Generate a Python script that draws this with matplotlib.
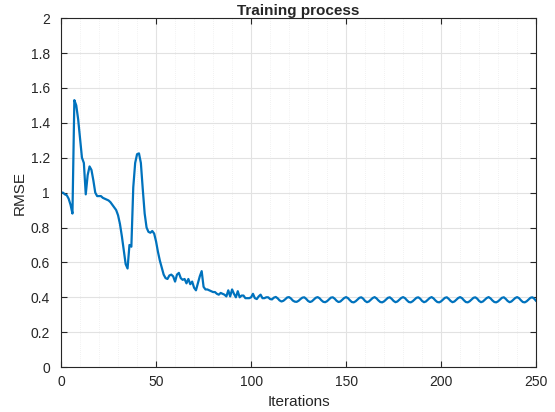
import matplotlib
matplotlib.use("Agg")
import matplotlib.pyplot as plt
from matplotlib.ticker import MultipleLocator

# RMSE, one value per iteration (0..250)
rmse_head = [
    1.00, 1.00, 0.99, 0.985, 0.965, 0.93, 0.88, 1.53, 1.50, 1.42,
    1.31, 1.20, 1.17, 0.99, 1.10, 1.15, 1.13, 1.07, 1.00, 0.98,
    0.98, 0.98, 0.97, 0.965, 0.96, 0.955, 0.945, 0.93, 0.915, 0.90,
    0.87, 0.82, 0.75, 0.67, 0.59, 0.565, 0.70, 0.69, 1.03, 1.17,
    1.22, 1.225, 1.17, 1.02, 0.88, 0.80, 0.775, 0.77, 0.78, 0.765,
    0.72, 0.66, 0.61, 0.57, 0.53, 0.51, 0.505, 0.525, 0.53, 0.52,
    0.49, 0.53, 0.54, 0.51, 0.50, 0.505, 0.48, 0.505, 0.475, 0.49,
    0.455, 0.44, 0.48, 0.52, 0.55, 0.46, 0.445, 0.445, 0.44, 0.435,
    0.43, 0.43, 0.42, 0.415, 0.425, 0.42, 0.415, 0.405, 0.44, 0.405,
    0.445, 0.42, 0.40, 0.435, 0.40, 0.41, 0.41, 0.395, 0.395, 0.395,
    0.40, 0.42, 0.395, 0.39, 0.405, 0.415, 0.395, 0.395, 0.40, 0.40,
    0.39,
]
rmse_tail = [
    0.388, 0.398, 0.402, 0.394, 0.382, 0.376, 0.380,
    0.389, 0.399, 0.401, 0.393, 0.381, 0.375, 0.374, 0.380,
    0.390, 0.398, 0.400, 0.391, 0.379, 0.373, 0.377,
    0.387, 0.397, 0.401, 0.395, 0.383, 0.374, 0.372, 0.378,
    0.388, 0.398, 0.400, 0.392, 0.380, 0.373, 0.376,
    0.386, 0.396, 0.401, 0.395, 0.383, 0.373, 0.371, 0.377,
    0.387, 0.397, 0.400, 0.392, 0.379, 0.372, 0.376,
    0.386, 0.396, 0.401, 0.394, 0.382, 0.373, 0.371, 0.377,
    0.387, 0.397, 0.400, 0.391, 0.379, 0.372, 0.376,
    0.386, 0.396, 0.401, 0.395, 0.383, 0.373, 0.371, 0.377,
    0.387, 0.397, 0.400, 0.392, 0.379, 0.372, 0.376,
    0.386, 0.396, 0.401, 0.394, 0.382, 0.373, 0.371, 0.377,
    0.387, 0.397, 0.400, 0.391, 0.379, 0.372, 0.376,
    0.386, 0.396, 0.401, 0.395, 0.383, 0.373, 0.371, 0.377,
    0.387, 0.397, 0.400, 0.392, 0.379, 0.372, 0.376,
    0.386, 0.396, 0.401, 0.394, 0.382, 0.373, 0.371, 0.377,
    0.387, 0.397, 0.400, 0.391, 0.379, 0.372, 0.376,
    0.386, 0.396, 0.401, 0.395, 0.383, 0.373, 0.371, 0.377,
    0.387, 0.397, 0.400, 0.392, 0.379, 0.372, 0.376,
    0.386, 0.396, 0.400, 0.393, 0.381, 0.372,
]
rmse = rmse_head + rmse_tail
iterations = list(range(len(rmse)))

plt.rcParams['font.family'] = ['Liberation Sans', 'DejaVu Sans']
dark = '#262626'

fig = plt.figure(figsize=(5.55, 4.12), dpi=100)
ax = fig.add_axes([0.110, 0.109, 0.856, 0.847])

ax.plot(iterations, rmse, color='#0072BD', linewidth=1.6)

ax.set_xlim(0, 250)
ax.set_ylim(0, 2)
ax.xaxis.set_major_locator(MultipleLocator(50))
ax.xaxis.set_minor_locator(MultipleLocator(10))
ax.set_yticks([0, 0.2, 0.4, 0.6, 0.8, 1, 1.2, 1.4, 1.6, 1.8, 2])
ax.set_yticklabels(['0', '0.2', '0.4', '0.6', '0.8', '1', '1.2', '1.4', '1.6', '1.8', '2'])

ax.grid(True, which='major', color='#e2e2e2', linewidth=0.8)
ax.grid(True, which='minor', axis='x', color='#e6e6e6', linestyle=(0, (1, 2)), linewidth=0.5)
ax.set_axisbelow(True)

ax.tick_params(which='major', direction='in', length=4, width=0.8, colors=dark,
               top=True, right=True, labelsize=10)
ax.tick_params(axis='x', pad=6)
ax.tick_params(axis='y', pad=8)
ax.tick_params(which='minor', length=0)
for s in ax.spines.values():
    s.set_color(dark)
    s.set_linewidth(0.8)

ax.set_title('Training process', fontsize=11, fontweight='bold', color=dark, pad=2)
ax.set_xlabel('Iterations', fontsize=11, color=dark, labelpad=4)
ax.set_ylabel('RMSE', fontsize=11, color=dark, labelpad=3)

fig.savefig('out.png', dpi=100, facecolor='white')
